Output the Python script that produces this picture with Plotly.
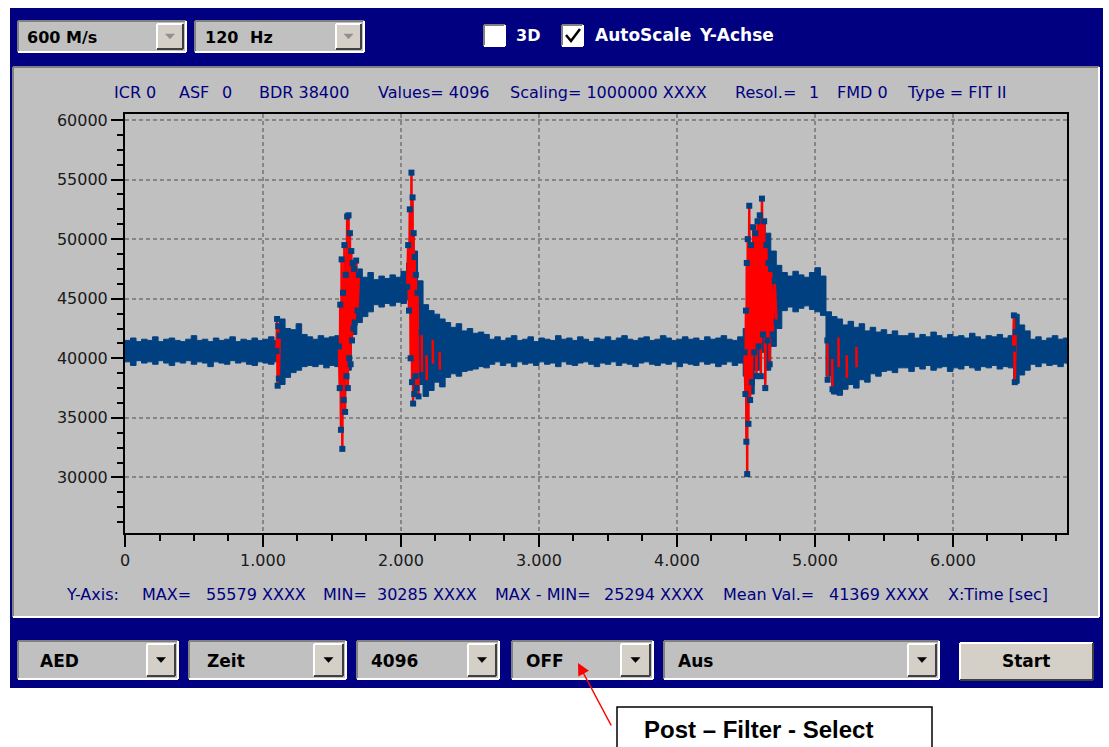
import plotly.graph_objects as go

# ------------------------------------------------------------------ data
SAMPLE_RATE = 600          # Hz
N_VALUES = 4096            # samples in record
ENV_BIN = 24               # samples per envelope bin (0.04 s)

# upper / lower envelope of the dense signal band, one value per 24-sample bin
hi_a = [41500, 41700, 41400, 41600, 41500, 41800, 41400, 41600, 41700, 41500,
        41400, 41600, 41900, 41500, 41600, 41400, 41700, 41500, 41600, 41800,
        41400, 41600, 41500, 41700, 41500, 41600, 41800, 41500]
lo_a = [39700, 39400, 39800, 39600, 39700, 39500, 39800, 39600, 39400, 39700,
        39600, 39800, 39500, 39700, 39600, 39300, 39700, 39600, 39500, 39800,
        39600, 39700, 39500, 39400, 39700, 39600, 39500, 39700]
hi_b = [43300, 42500, 42400, 42900, 42000]
lo_b = [37800, 38400, 38800, 39000, 39300]
hi_c = [41800, 41600, 41900, 41700, 41800, 41900]
lo_c = [39400, 39300, 39500, 39200, 39400, 39300]
hi_d = [42500, 47000, 48000, 47500]
lo_d = [38500, 39000, 42000, 43000]
hi_e = [46800, 47200, 46600, 46900, 46700, 47000, 46800, 47300, 48000]
lo_e = [43500, 43900, 44500, 44300, 44600, 44400, 44700, 44600, 44900]
hi_f = [49000, 46500]
lo_f = [39500, 37800]
hi_g = [44500, 44000, 43700, 43300, 43000, 42600, 42900, 42300, 42500, 42100, 42200, 42000]
lo_g = [36800, 37300, 38000, 37600, 38400, 38700, 38500, 38900, 39000, 39100, 39300, 39200]
hi_h = [41600, 41800, 41500, 41700, 41900, 41500, 41600, 41800, 41400, 41700,
        41600, 41500, 41900, 41600, 41700, 41500, 41800, 41600, 41400, 41700,
        41600, 41800, 41500, 41700, 41900, 41600, 41500, 41700, 41800, 41500,
        41600, 41900, 41700, 41500, 41600, 41800, 41600, 41700, 41500, 41800,
        41600, 41700, 41900, 41600, 41500, 41800]
lo_h = [39500, 39700, 39400, 39600, 39300, 39700, 39500, 39600, 39400, 39700,
        39500, 39600, 39300, 39700, 39500, 39400, 39600, 39700, 39500, 39300,
        39600, 39500, 39700, 39400, 39600, 39500, 39300, 39600, 39700, 39500,
        39400, 39600, 39500, 39700, 39300, 39600, 39500, 39400, 39700, 39500,
        39600, 39300, 39500, 39700, 39400, 39600]
hi_i = [42500, 48000, 50500, 51500, 50500, 49000, 47800]
lo_i = [38500, 37000, 39000, 40500, 39000, 41000, 42500]
hi_j = [47200, 46900, 47300, 47000, 46800, 47200, 47600, 46900]
lo_j = [44000, 44300, 43900, 44200, 44400, 44100, 43900, 43600]
hi_k = [43900, 43500, 43300, 42800, 43100, 42600, 42900, 42300, 42600, 42200, 42400, 42000, 42300, 41900]
lo_k = [38500, 37000, 36900, 37400, 37800, 37500, 38200, 38000, 38700, 38500, 38900, 39000, 38800, 39200]
hi_l = [41900, 42100, 41700, 42000, 41800, 42200, 41900, 41700, 42000, 41800,
        41900, 41700, 42100, 41800, 41600, 41900, 41800, 42000, 41700, 41900]
lo_l = [39200, 38900, 39300, 39100, 39400, 39000, 39200, 39300, 38900, 39200,
        39100, 39400, 39200, 39000, 39300, 39200, 39400, 39100, 39300, 39200]
hi_m = [43700, 42800, 42300]
lo_m = [37900, 38600, 39000]
hi_n = [41600, 41800, 41500, 41700, 41900, 41600, 41700, 41600]
lo_n = [39500, 39300, 39600, 39400, 39500, 39300, 39600, 39500]

env_hi = hi_a + hi_b + hi_c + hi_d + hi_e + hi_f + hi_g + hi_h + hi_i + hi_j + hi_k + hi_l + hi_m + hi_n
env_lo = lo_a + lo_b + lo_c + lo_d + lo_e + lo_f + lo_g + lo_h + lo_i + lo_j + lo_k + lo_l + lo_m + lo_n

# individual samples of the transient bursts (time s, value)
burst1_t = [1.098, 1.102, 1.106, 1.110, 1.115, 1.121]
burst1_y = [40600, 43300, 37700, 42700, 38300, 41900]
burst2_t = [1.550, 1.556, 1.560, 1.565, 1.570, 1.575, 1.580, 1.585, 1.590, 1.595,
            1.600, 1.605, 1.610, 1.615, 1.620, 1.625, 1.630, 1.635, 1.640, 1.645,
            1.650, 1.655, 1.660, 1.665, 1.675, 1.685, 1.695]
burst2_y = [41000, 37500, 44500, 34000, 48300, 32400, 45500, 36500, 49500, 35500,
            47000, 38500, 51900, 37500, 52000, 40000, 50500, 39500, 49000, 41500,
            48000, 42500, 47500, 43000, 48200, 44000, 47000]
burst3_t = [2.045, 2.052, 2.058, 2.064, 2.070, 2.076, 2.080, 2.084, 2.088, 2.092,
            2.096, 2.100, 2.104, 2.108, 2.113, 2.120, 2.127]
burst3_y = [46000, 49500, 44000, 52500, 40000, 55579, 38000, 53500, 36200, 50500,
            37000, 48500, 38500, 47000, 37500, 45500, 36800]
burst4_t = [4.490, 4.496, 4.500, 4.503, 4.506, 4.509, 4.513, 4.518, 4.524, 4.530,
            4.537, 4.544, 4.552, 4.560, 4.568, 4.576, 4.584, 4.592, 4.600, 4.608,
            4.616, 4.624, 4.632, 4.640, 4.648, 4.656, 4.664, 4.672, 4.682, 4.694,
            4.708, 4.722]
burst4_y = [40500, 37000, 44000, 33000, 48000, 30285, 50000, 34500, 52800, 36500,
            49500, 38000, 51000, 40500, 50500, 38500, 51500, 41000, 52000, 38500,
            53400, 42000, 51500, 37500, 49500, 41500, 48000, 39500, 47500, 42000,
            46500, 43000]
burst6_t = [6.436, 6.442, 6.448, 6.455]
burst6_y = [40800, 43600, 38000, 42200]

# isolated sample-to-sample jumps in the decaying parts (time s, from, to)
jump_t = [2.150, 2.185, 2.230, 2.280, 5.090, 5.125, 5.170, 5.230, 5.300]
jump_from = [42200, 40500, 41800, 40800, 41500, 40200, 42000, 40500, 41200]
jump_to = [38600, 37900, 39300, 38800, 38200, 37400, 39000, 38100, 39000]

x_tick_vals = [0, 1, 2, 3, 4, 5, 6]
x_tick_text = ["0", "1.000", "2.000", "3.000", "4.000", "5.000", "6.000"]
y_tick_vals = [30000, 35000, 40000, 45000, 50000, 55000, 60000]
y_range = [25340, 60500]

stats = {"MAX": 55579, "MIN": 30285, "MAX - MIN": 25294, "Mean Val.": 41369}

# ------------------------------------------------------------------ colours
NAVY = "#000080"
PANEL = "#c0c0c0"
BTN = "#d4d0c8"
BLUE = "#004080"
RED = "#ff0000"

# ------------------------------------------------------------------ geometry helpers
W, H = 1109, 747
L, R, T, B = 125, 1067, 114, 533

def px(x):
    return (x - L) / (R - L)

def py(y):
    return (B - y) / (B - T)

shapes, annos = [], []

def rect(x0, y0, x1, y1, fill, lc=None, lw=0, layer="below"):
    shapes.append(dict(type="rect", xref="paper", yref="paper",
                       x0=px(x0), x1=px(x1), y0=py(y1), y1=py(y0),
                       fillcolor=fill, line=dict(width=lw, color=lc or fill), layer=layer))

def seg(x0, y0, x1, y1, color, lw, layer="below"):
    shapes.append(dict(type="line", xref="paper", yref="paper",
                       x0=px(x0), y0=py(y0), x1=px(x1), y1=py(y1),
                       line=dict(color=color, width=lw), layer=layer))

def poly(points, fill=None, color="black", lw=0, closed=True, layer="below"):
    d = "M " + " L ".join(f"{px(x):.5f},{py(y):.5f}" for x, y in points)
    if closed:
        d += " Z"
    shapes.append(dict(type="path", xref="paper", yref="paper", path=d,
                       fillcolor=fill if fill else "rgba(0,0,0,0)",
                       line=dict(color=color, width=lw), layer=layer))

def sunken(x0, y0, x1, y1, fill):
    rect(x0, y0, x1, y1, fill)
    seg(x0, y0, x1, y0, "#808080", 2)
    seg(x0, y0, x0, y1, "#808080", 2)
    seg(x0, y1, x1, y1, "#ffffff", 2)
    seg(x1, y0, x1, y1, "#ffffff", 2)

def raised(x0, y0, x1, y1, fill=BTN):
    rect(x0, y0, x1, y1, fill)
    seg(x0, y0, x1, y0, "#ffffff", 2)
    seg(x0, y0, x0, y1, "#ffffff", 2)
    seg(x0, y1, x1, y1, "#404040", 2)
    seg(x1, y0, x1, y1, "#404040", 2)

def text(x, y, s, size=16, color="black", weight="normal", family="DejaVu Sans", anchor="left"):
    annos.append(dict(xref="paper", yref="paper", x=px(x), y=py(y), text=s, showarrow=False,
                      xanchor=anchor, yanchor="middle",
                      font=dict(family=family, size=size, color=color, weight=weight)))

def dropdown(x0, y0, x1, y1, bx0, label, lx, size, arrow_color):
    sunken(x0, y0, x1, y1, PANEL)
    raised(bx0, y0 + 3, x1 - 3, y1 - 3)
    cx, cy = (bx0 + x1 - 3) / 2, (y0 + y1) / 2
    poly([(cx - 4.5, cy - 2.5), (cx + 4.5, cy - 2.5), (cx, cy + 2.5)], fill=arrow_color, color=arrow_color, lw=0.5)
    text(lx, cy + 1, label, size=size, weight="bold")

# ------------------------------------------------------------------ window chrome
rect(10, 8, 1103, 688, NAVY)
rect(13, 67, 1099, 617, PANEL)
seg(13, 67, 1099, 67, "#808080", 2)
seg(13, 67, 13, 617, "#808080", 2)
seg(13, 617, 1099, 617, "#ffffff", 2)
seg(1099, 67, 1099, 617, "#ffffff", 2)

# top controls
dropdown(18, 21, 186, 52, 157, "600 M/s", 25, 16, "#909090")
dropdown(195, 21, 364, 52, 336, "120", 203, 16, "#909090")
text(248, 37.5, "Hz", size=16, weight="bold")
sunken(484, 25, 505, 46, "#ffffff")
text(514, 35.5, "3D", size=16, color="white", weight="bold")
sunken(562, 25, 583, 46, "#ffffff")
poly([(566, 35), (571, 41), (580, 29)], color="black", lw=2.5, closed=False)
text(593, 35.5, "AutoScale", size=17, color="white", weight="bold")
text(697, 35.5, "Y-Achse", size=17, color="white", weight="bold")

# bottom controls
dropdown(18, 641, 178, 679, 147, "AED", 38, 17, "black")
dropdown(189, 641, 346, 679, 314, "Zeit", 205, 17, "black")
dropdown(357, 641, 499, 679, 468, "4096", 369, 17, "black")
dropdown(512, 641, 653, 679, 621, "OFF", 524, 17, "black")
dropdown(664, 641, 939, 679, 908, "Aus", 676, 17, "black")
raised(960, 643, 1093, 680)
text(1026, 661, "Start", size=17, weight="bold", anchor="center")

# header info line
for s, x in [("ICR 0", 112), ("ASF", 177), ("0", 220), ("BDR 38400", 257),
             ("Values= 4096", 376), ("Scaling= 1000000 XXXX", 508), ("Resol.=", 733),
             ("1", 807), ("FMD 0", 835), ("Type = FIT II", 905)]:
    text(x, 92, s, size=16, color=NAVY)

# footer statistics line
footer = [("Y-Axis:", 64), ("MAX=", 140), (f"{stats['MAX']} XXXX", 204),
          ("MIN=", 321), (f"{stats['MIN']} XXXX", 375),
          ("MAX - MIN=", 493), (f"{stats['MAX - MIN']} XXXX", 602),
          ("Mean Val.=", 721), (f"{stats['Mean Val.']} XXXX", 827), ("X:Time [sec]", 946)]
for s, x in footer:
    text(x, 594, s, size=16, color=NAVY)

# callout box + arrow
rect(617, 707, 932, 752, "#ffffff", lc="black", lw=1.5, layer="above")
text(642, 729, "Post \u2013 Filter - Select", size=24, weight="bold", family="Liberation Sans")
annos.append(dict(xref="paper", yref="paper", x=px(578), y=py(663), ax=34, ay=64,
                  axref="pixel", ayref="pixel", text="", showarrow=True, arrowhead=2,
                  arrowsize=1.6, arrowwidth=1.5, arrowcolor=RED, standoff=0))

# ------------------------------------------------------------------ traces
t_end = N_VALUES / SAMPLE_RATE
t_env = [min(i * ENV_BIN / SAMPLE_RATE, t_end) for i in range(len(env_hi))]

burst_t, burst_y = [], []
for bt, by in [(burst1_t, burst1_y), (burst2_t, burst2_y), (burst3_t, burst3_y),
               (burst4_t, burst4_y), (burst6_t, burst6_y)]:
    burst_t += bt + [None]
    burst_y += by + [None]
for t0, ya, yb in zip(jump_t, jump_from, jump_to):
    burst_t += [t0, t0 + 0.002, None]
    burst_y += [ya, yb, None]

fig = go.Figure()
fig.add_trace(go.Scatter(x=t_env, y=env_hi, mode="lines",
                         line=dict(color=BLUE, width=1, shape="hv"), hoverinfo="skip"))
fig.add_trace(go.Scatter(x=t_env, y=env_lo, mode="lines", fill="tonexty", fillcolor=BLUE,
                         line=dict(color=BLUE, width=1, shape="hv"), hoverinfo="skip"))
fig.add_trace(go.Scatter(x=burst_t, y=burst_y, mode="lines+markers",
                         line=dict(color=RED, width=2.5),
                         marker=dict(symbol="square", size=6, color=BLUE, line=dict(width=0)),
                         connectgaps=False, hoverinfo="skip"))

axis_common = dict(showline=True, linecolor="black", linewidth=2, mirror=True,
                   ticks="outside", ticklen=12, tickwidth=2, tickcolor="black",
                   showgrid=True, gridcolor="#858585", gridwidth=1.6, griddash="4px,3px",
                   zeroline=False, tickfont=dict(family="DejaVu Sans", size=16, color="#1a1a1a"))

fig.update_layout(
    width=W, height=H,
    margin=dict(l=L, r=W - R, t=T, b=H - B),
    paper_bgcolor="#ffffff", plot_bgcolor="rgba(0,0,0,0)",
    showlegend=False,
    shapes=shapes, annotations=annos,
    xaxis=dict(range=[0, t_end], tickmode="array", tickvals=x_tick_vals, ticktext=x_tick_text,
               minor=dict(tickmode="linear", tick0=0, dtick=0.25, ticks="outside", ticklen=6,
                          tickwidth=2, tickcolor="black", showgrid=False),
               **axis_common),
    yaxis=dict(range=y_range, tickmode="array", tickvals=y_tick_vals,
               ticktext=[str(v) for v in y_tick_vals],
               minor=dict(tickmode="linear", tick0=0, dtick=1250, ticks="outside", ticklen=6,
                          tickwidth=2, tickcolor="black", showgrid=False),
               **axis_common),
)

fig.write_html("out.html", config={"displayModeBar": False},
               post_script="document.body.style.margin='0';document.body.style.overflow='hidden';")
